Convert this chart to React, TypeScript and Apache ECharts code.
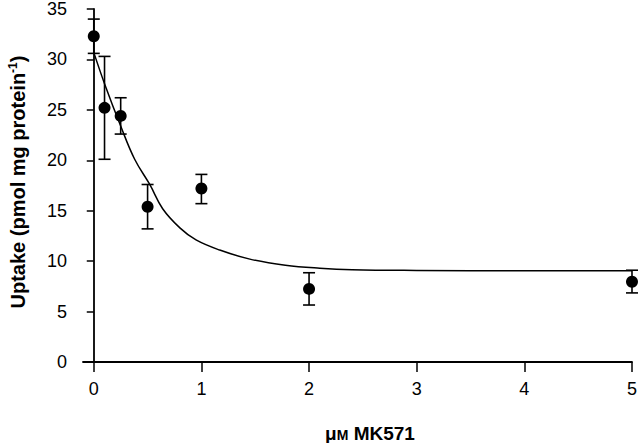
import React, { useEffect, useRef } from "react";
import * as echarts from "echarts";

const concX = [0, 0.1, 0.25, 0.5, 1, 2, 5];
const uptake = [32.3, 25.2, 24.4, 15.4, 17.2, 7.25, 7.95];
const errTop = [34.0, 30.3, 26.2, 17.6, 18.6, 8.85, 9.1];
const errBottom = [30.6, 20.1, 22.6, 13.2, 15.7, 5.65, 6.85];

const curveX = [0, 0.1, 0.25, 0.38, 0.52, 0.64, 0.8, 0.95, 1.17, 1.45, 1.78, 2.1, 2.4, 3, 4, 5];
const curveY = [30.7, 27.6, 23.4, 20.1, 17.6, 15.2, 13.3, 12.1, 11.1, 10.2, 9.6, 9.3, 9.15, 9.08, 9.05, 9.05];

const yTicks = ["0", "5", "10", "15", "20", "25", "30", "35"];
const xTicks = ["0", "1", "2", "3", "4", "5"];

export default function App() {
  const ref = useRef<HTMLDivElement>(null);
  useEffect(() => {
    if (!ref.current) return;
    const chart = echarts.init(ref.current, null, { renderer: "svg" });
    const font = "'Liberation Sans', Arial, sans-serif";
    const points = concX.map((x, i) => [x, uptake[i]]);
    const errs = concX.map((x, i) => [x, errBottom[i], errTop[i]]);
    const curve = curveX.map((x, i) => [x, curveY[i]]);
    chart.setOption({
      animation: false,
      backgroundColor: "#fff",
      grid: { left: 83, right: 6, top: 8, bottom: 81, containLabel: false },
      xAxis: {
        type: "value",
        min: -0.1,
        max: 5,
        interval: 1,
        splitLine: { show: false },
        axisLine: { onZero: false, lineStyle: { color: "#000", width: 1.8 } },
        axisTick: { show: true, length: 10, lineStyle: { color: "#000", width: 1.5 }, customValues: [0, 1, 2, 3, 4, 5] },
        axisLabel: {
          color: "#000",
          fontSize: 18,
          fontFamily: font,
          margin: 18,
          customValues: [0, 1, 2, 3, 4, 5],
          formatter: (v: number) => xTicks[Math.round(v)] ?? "",
        },
      },
      yAxis: {
        type: "value",
        min: 0,
        max: 35,
        interval: 5,
        splitLine: { show: false },
        axisLine: { show: true, lineStyle: { color: "#000", width: 1.8 } },
        axisTick: { show: true, length: 7, lineStyle: { color: "#000", width: 1.5 } },
        axisLabel: {
          color: "#000",
          fontSize: 18,
          fontFamily: font,
          margin: 16,
          formatter: (v: number) => yTicks[Math.round(v / 5)] ?? "",
        },
      },
      graphic: [
        {
          type: "text",
          x: 370,
          y: 433,
          style: {
            text: "{mu|μ}{sm|M}{n| MK571}",
            align: "center",
            verticalAlign: "middle",
            fill: "#000",
            font: `bold 19px ${font}`,
            rich: {
              mu: { fontSize: 19, fontWeight: "bold", fontFamily: font, fill: "#000" },
              sm: { fontSize: 14, fontWeight: "bold", fontFamily: font, fill: "#000", padding: [4, 0, 0, 0] },
              n: { fontSize: 19, fontWeight: "bold", fontFamily: font, fill: "#000" },
            },
          },
        },
        {
          type: "text",
          x: 18,
          y: 182,
          rotation: Math.PI / 2,
          style: {
            text: "{a|Uptake (pmol mg protein}{s|-1}{a|)}",
            align: "center",
            verticalAlign: "middle",
            fill: "#000",
            font: `bold 20px ${font}`,
            rich: {
              a: { fontSize: 20, fontWeight: "bold", fontFamily: font, fill: "#000" },
              s: { fontSize: 12, fontWeight: "bold", fontFamily: font, fill: "#000", padding: [0, 0, 10, 0] },
            },
          },
        },
      ],
      series: [
        {
          type: "line",
          data: curve,
          smooth: 0.4,
          showSymbol: false,
          lineStyle: { color: "#000", width: 1.5 },
          z: 2,
        },
        {
          type: "custom",
          data: errs,
          z: 3,
          renderItem: (params: any, api: any) => {
            const x = api.value(0);
            const lo = api.coord([x, api.value(1)]);
            const hi = api.coord([x, api.value(2)]);
            const w = 6;
            const style = { stroke: "#000", lineWidth: 1.6 };
            return {
              type: "group",
              children: [
                { type: "line", shape: { x1: lo[0], y1: lo[1], x2: hi[0], y2: hi[1] }, style },
                { type: "line", shape: { x1: lo[0] - w, y1: lo[1], x2: lo[0] + w, y2: lo[1] }, style },
                { type: "line", shape: { x1: hi[0] - w, y1: hi[1], x2: hi[0] + w, y2: hi[1] }, style },
              ],
            };
          },
        },
        {
          type: "scatter",
          data: points,
          symbol: "circle",
          symbolSize: 12,
          itemStyle: { color: "#000", opacity: 1 },
          z: 4,
        },
      ],
    });
    return () => chart.dispose();
  }, []);
  return <div ref={ref} style={{ width: 640, height: 443, position: "absolute", left: 0, top: 0 }} />;
}
